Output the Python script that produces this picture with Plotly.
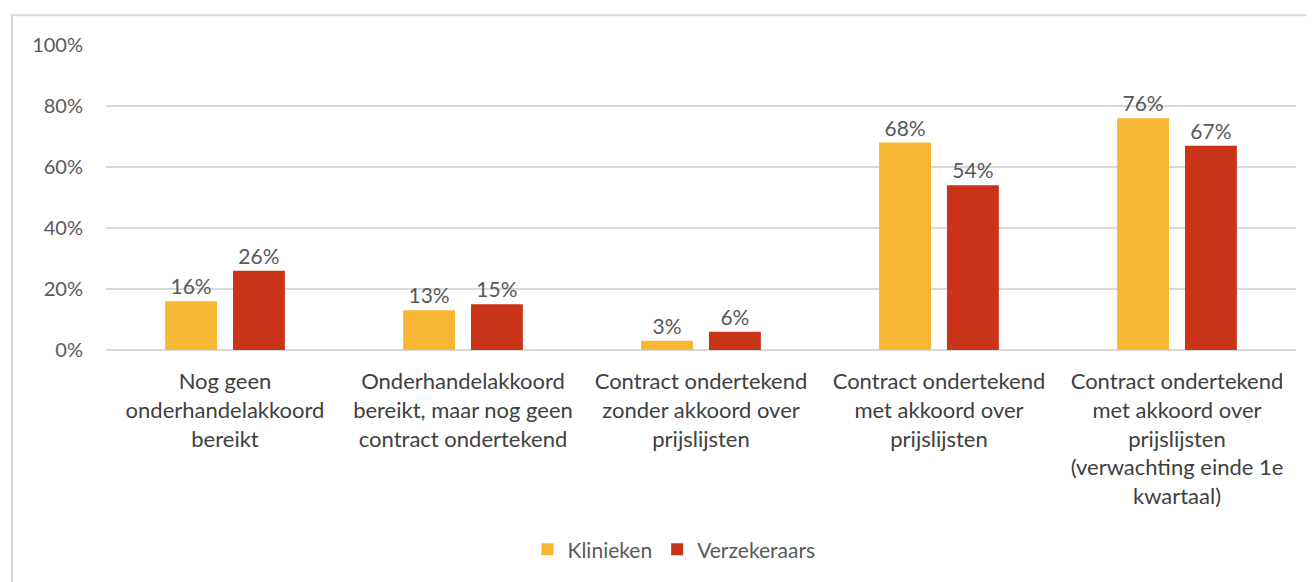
import plotly.graph_objects as go

categories = [
    "Nog geen<br>onderhandelakkoord<br>bereikt",
    "Onderhandelakkoord<br>bereikt, maar nog geen<br>contract ondertekend",
    "Contract ondertekend<br>zonder akkoord over<br>prijslijsten",
    "Contract ondertekend<br>met akkoord over<br>prijslijsten",
    "Contract ondertekend<br>met akkoord over<br>prijslijsten<br>(verwachting einde 1e<br>kwartaal)",
]
klinieken = [0.16, 0.13, 0.03, 0.68, 0.76]
verzekeraars = [0.26, 0.15, 0.06, 0.54, 0.67]
series_names = ["Klinieken", "Verzekeraars"]
colors = ["#F7B733", "#C93318"]
tick_vals = [0, 0.2, 0.4, 0.6, 0.8, 1.0]
tick_text = ["0%", "20%", "40%", "60%", "80%", "100%"]

FONT = "Lato, Calibri, Carlito, sans-serif"

fig = go.Figure()
for name, vals, col in zip(series_names, [klinieken, verzekeraars], colors):
    fig.add_trace(go.Bar(
        x=categories, y=vals, name=name,
        marker=dict(color=col, line=dict(width=0)),
        text=[f"{round(v*100)}%" for v in vals],
        textposition="outside",
        textfont=dict(family=FONT, size=21, color="#595959"),
        cliponaxis=False,
    ))

# page body has an 8px offset; compensate
OFF = 8
W, H = 1314 - OFF, 582 - OFF
L, R, T, B = 106 - OFF, 18, 45 - OFF, 230
pw = W - L - R
ph = H - T - B

def px_x(x):
    return (x - OFF - L) / pw

def px_y(y):
    return (H - B - (y - OFF)) / ph

fig.update_layout(
    width=W, height=H,
    margin=dict(l=L, r=R, t=T, b=B),
    paper_bgcolor="white", plot_bgcolor="white",
    barmode="group", bargap=0.43, bargroupgap=0.235,
    font=dict(family=FONT, color="#404040"),
    showlegend=True,
    legend=dict(orientation="h", x=px_x(674), y=px_y(553), xanchor="center", yanchor="middle",
                font=dict(family=FONT, size=21, color="#595959"), traceorder="normal",
                itemwidth=30),
    shapes=[dict(type="rect", xref="paper", yref="paper",
                 x0=px_x(12), x1=px_x(1330), y0=px_y(15), y1=px_y(600),
                 line=dict(color="#D9D9D9", width=2), fillcolor="rgba(0,0,0,0)", layer="below")],
)
fig.update_xaxes(
    tickfont=dict(family=FONT, size=22, color="#404040"),
    showgrid=False, showline=False, ticks="outside", ticklen=12,
    tickcolor="rgba(0,0,0,0)", automargin=False,
)
fig.update_yaxes(
    range=[0, 1], tickvals=tick_vals, ticktext=tick_text,
    tickfont=dict(family=FONT, size=20, color="#595959"),
    showgrid=True, gridcolor="#D9D9D9", gridwidth=1.5,
    zeroline=True, zerolinecolor="#D9D9D9", zerolinewidth=1.5,
    showline=False, ticks="outside", ticklen=18, tickcolor="rgba(0,0,0,0)", automargin=False,
)

fig.write_html("out.html")
